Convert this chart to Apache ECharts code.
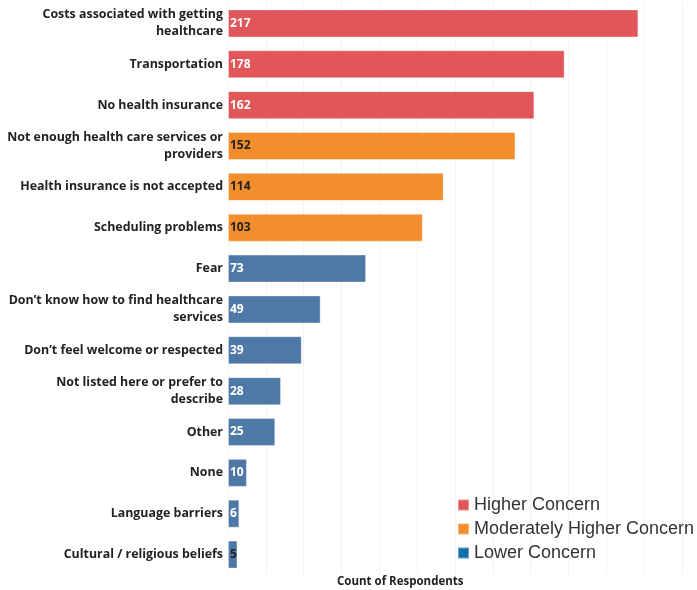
<!DOCTYPE html>
<html>
<head>
<meta charset="utf-8">
<script src="https://cdn.jsdelivr.net/npm/echarts@6/dist/echarts.min.js"></script>
<style>
    html, body { margin: 0; padding: 0; background: #fff; }
    #chart { width: 697px; height: 590px; }
</style>
</head>
<body>
<div id="chart"></div>
<script>
// categories, top to bottom
var categories = [
    'Costs associated with getting\nhealthcare',
    'Transportation',
    'No health insurance',
    'Not enough health care services or\nproviders',
    'Health insurance is not accepted',
    'Scheduling problems',
    'Fear',
    'Don\u2019t know how to find healthcare\nservices',
    'Don\u2019t feel welcome or respected',
    'Not listed here or prefer to\ndescribe',
    'Other',
    'None',
    'Language barriers',
    'Cultural / religious beliefs'
];
var counts = [217, 178, 162, 152, 114, 103, 73, 49, 39, 28, 25, 10, 6, 5];
// concern level of each category (0 higher, 1 moderately higher, 2 lower)
var levels = [0, 0, 0, 1, 1, 1, 2, 2, 2, 2, 2, 2, 2, 2];
var levelNames = ['Higher Concern', 'Moderately Higher Concern', 'Lower Concern'];

var barColors = ['#e15759', '#f28e2b', '#4e79a7'];
var legendColors = ['#e15759', '#f28e2b', '#1170aa'];
var labelColors = ['#ffffff', '#222222', '#ffffff'];

var series = [];
for (var l = 0; l < levelNames.length; l++) {
    var data = [];
    for (var i = 0; i < counts.length; i++) {
        if (levels[i] !== l) {
            data.push('-');
        } else if (counts[i] <= 5) {
            // too narrow for white text
            data.push({value: counts[i], label: {color: '#222'}});
        } else {
            data.push(counts[i]);
        }
    }
    series.push({
        name: levelNames[l],
        type: 'bar',
        stack: 'all',
        barWidth: 28,
        data: data,
        itemStyle: {color: barColors[l], borderColor: 'rgba(255,255,255,0.35)', borderWidth: 1},
        label: {
            show: true,
            position: 'insideLeft',
            distance: 2,
            color: labelColors[l],
            fontFamily: 'Open Sans',
            fontWeight: 'bold',
            fontSize: 12
        }
    });
}

var myChart = echarts.init(document.getElementById('chart'));
myChart.setOption({
    animation: false,
    grid: {
        left: 228,
        right: 0,
        top: 3,
        bottom: 15,
        containLabel: false
    },
    legend: {
        orient: 'vertical',
        left: 452,
        top: 491,
        icon: 'rect',
        itemWidth: 11,
        itemHeight: 11,
        itemGap: 6,
        textStyle: {fontFamily: 'Liberation Sans', fontSize: 18, color: '#333'},
        data: [
            {name: levelNames[0], itemStyle: {color: legendColors[0]}},
            {name: levelNames[1], itemStyle: {color: legendColors[1]}},
            {name: levelNames[2], itemStyle: {color: legendColors[2]}}
        ]
    },
    xAxis: {
        type: 'value',
        min: 0,
        max: 248,
        interval: 20,
        axisLabel: {show: false},
        axisLine: {show: false},
        axisTick: {show: false},
        splitLine: {show: true, showMaxLine: false, lineStyle: {color: '#f4f4f4'}}
    },
    yAxis: {
        type: 'category',
        inverse: true,
        data: categories,
        axisLine: {show: false},
        axisTick: {show: false},
        axisLabel: {
            margin: 5,
            fontFamily: 'Open Sans',
            fontWeight: 'bold',
            fontSize: 12.4,
            lineHeight: 17,
            color: '#222',
            align: 'right'
        }
    },
    graphic: [{
        type: 'text',
        left: 337,
        top: 576,
        style: {
            text: 'Count of Respondents',
            font: 'bold 11.5px "Open Sans"',
            fill: '#222'
        }
    }],
    series: series
});
</script>
</body>
</html>
